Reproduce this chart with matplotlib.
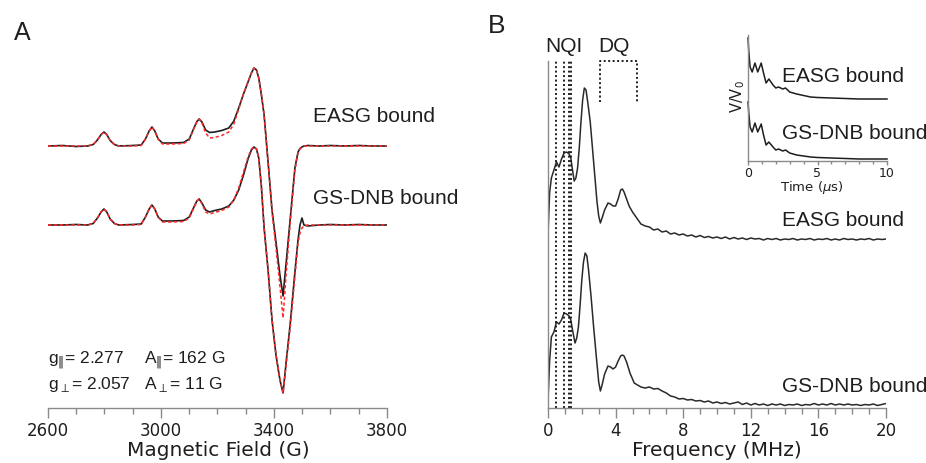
import matplotlib
matplotlib.use("Agg")
import matplotlib.pyplot as plt
from matplotlib.ticker import MultipleLocator

# ---------------- data: panel A (CW EPR) ----------------
field_G = [2600, 2650, 2700, 2740, 2760, 2775, 2788, 2798, 2808, 2820, 2835, 2850,
           2900, 2930, 2945, 2958, 2968, 2978, 2990, 3005, 3040, 3080, 3100, 3115,
           3127, 3135, 3145, 3158, 3172, 3190, 3215, 3240, 3258, 3275, 3292, 3308,
           3320, 3329, 3338, 3346, 3355, 3365, 3379, 3393, 3407, 3421, 3432, 3443,
           3457, 3474, 3485, 3492, 3499, 3506, 3520, 3560, 3600, 3650, 3700, 3750, 3800]
easg_exp = [0, 0.5, -0.5, 0, 1.5, 6, 11.5, 14, 11.5, 5.5, 1.5, 0,
            0.5, 1, 7, 15, 19, 15, 7, 3, 3, 3.5, 7, 17,
            24.5, 27, 24, 16, 13.5, 14, 15.5, 18, 25, 38, 52, 64,
            73, 78, 76, 68, 52, 31, -16, -64, -96, -129, -150, -117,
            -74, -22, -6, -2.5, -1, 0, 0.5, 0, 0.5, 0, 0.5, 0, 0]
easg_sim = [0, 0, 0, 0, 1.5, 6, 11.5, 14, 11.5, 5.5, 1.5, 0,
            0, 0.5, 7, 15, 19, 15, 7, 2, 2, 2.5, 6, 16.5,
            24.5, 27, 23, 13, 8, 8.5, 10.5, 14, 22, 37, 52, 64,
            73, 78, 76, 68, 52, 31, -16, -66, -102, -140, -172, -128,
            -78, -24, -7, -3, -1, 0, 0, 0, 0, 0, 0, 0, 0]
gsdnb_exp = [0, 0, 0.5, 0, 1.5, 7, 13, 16, 13, 6, 1.5, 0,
             0.5, 1, 8, 16, 20, 16, 8, 4, 4, 4.5, 8, 17,
             24, 26, 22, 15, 13, 14.5, 16, 19, 25, 35, 50, 66,
             75, 78, 76, 67, 40, -3, -45, -95, -130, -155, -168, -137,
             -100, -47, -15, 0, 7, 0, -1, 0, 0.5, 0, 0.5, 0, 0]
gsdnb_sim = [0, 0, 0, 0, 1.5, 7, 13, 16, 13, 6, 1.5, 0,
             0, 0.5, 8, 16, 20, 16, 8, 3, 3, 3.5, 7, 16.5,
             24, 26, 21, 13, 11, 12.5, 14.5, 18, 25, 37, 53, 68,
             76, 78, 76, 67, 40, -3, -45, -95, -130, -155, -168, -140,
             -103, -52, -18, -8, -3, -1, 0, 0, 0, 0, 0, 0, 0]
fieldA_ticks = [2600, 3000, 3400, 3800]

# ---------------- data: panel B (ESEEM FT) ----------------
freq_easg = [0.0, 0.05, 0.1, 0.2, 0.35, 0.5, 0.65, 0.8, 0.95, 1.1, 1.25, 1.35, 1.45,
             1.55, 1.65, 1.75, 1.85, 1.95, 2.05, 2.15, 2.25, 2.35, 2.5, 2.7, 2.9,
             3.0, 3.1, 3.2, 3.35, 3.55, 3.7, 3.85, 4.0, 4.15, 4.3, 4.4, 4.5, 4.65,
             4.8, 5.0, 5.25, 5.5,
             5.75, 6.0, 6.25, 6.5, 6.75, 7.0, 7.25, 7.5, 7.75, 8.0, 8.25, 8.5, 8.75,
             9.0, 9.25, 9.5, 9.75, 10.0, 10.25, 10.5, 10.75, 11.0, 11.25, 11.5,
             11.75, 12.0, 12.25, 12.5, 12.75, 13.0, 13.25, 13.5, 13.75, 14.0, 14.25,
             14.5, 14.75, 15.0, 15.25, 15.5, 15.75, 16.0, 16.25, 16.5, 16.75, 17.0,
             17.25, 17.5, 17.75, 18.0, 18.25, 18.5, 18.75, 19.0, 19.25, 19.5, 19.75, 20.0]
ft_easg = [5, 28, 48, 62, 70, 78, 73, 81, 87, 88, 86, 82, 70,
           59, 62, 72, 92, 118, 140, 152, 150, 138, 118, 78, 38,
           24, 17, 22, 30, 37, 36, 34, 34, 41, 50, 51, 48, 41,
           34, 28, 22, 16,
           14, 13, 10, 11, 8, 9, 6, 7, 5, 6, 4, 5, 3,
           4.5, 2.5, 3.5, 2, 3, 1.5, 3, 1, 2.5, 1, 2,
           0.5, 2, 1, 1.5, 0, 1.5, 0.5, 1.5, 0, 1, 0.5,
           1.5, 0, 1, 0.5, 1.5, 0, 1, 0.5, 1.5, 0, 1,
           0, 1.5, 0.5, 1, 0, 1, 0.5, 1.5, 0, 1, 0.5, 1]
freq_gsdnb = [0.0, 0.05, 0.1, 0.2, 0.35, 0.5, 0.65, 0.8, 0.95, 1.1, 1.25, 1.35, 1.45,
              1.6, 1.7, 1.8, 1.9, 2.0, 2.1, 2.2, 2.3, 2.4, 2.55, 2.7, 2.85,
              3.0, 3.1, 3.2, 3.35, 3.55, 3.7, 3.85, 4.0, 4.15, 4.3, 4.4, 4.5, 4.65,
              4.85, 5.1, 5.5,
              5.75, 6.0, 6.25, 6.5, 6.75, 7.0, 7.25, 7.5, 7.75, 8.0, 8.25, 8.5, 8.75,
              9.0, 9.25, 9.5, 9.75, 10.0, 10.25, 10.5, 10.75, 11.0, 11.25, 11.5,
              11.75, 12.0, 12.25, 12.5, 12.75, 13.0, 13.25, 13.5, 13.75, 14.0, 14.25,
              14.5, 14.75, 15.0, 15.25, 15.5, 15.75, 16.0, 16.25, 16.5, 16.75, 17.0,
              17.25, 17.5, 17.75, 18.0, 18.25, 18.5, 18.75, 19.0, 19.25, 19.5, 19.75, 20.0]
ft_gsdnb = [6, 26, 46, 69, 74, 84, 82, 86, 93, 92, 90, 86, 76,
            63, 68, 79, 101, 126, 144, 153, 150, 136, 109, 79, 51,
            24, 15, 21, 32, 40, 39, 37, 39, 45, 50, 51, 50, 44,
            33, 23, 19,
            18, 19, 17, 17.5, 15, 13, 10, 9, 7, 7.5, 6, 6.5, 5,
            5.5, 4, 5, 3, 4, 2.5, 3.5, 2, 3, 4, 1.5,
            3, 1, 2.5, 1, 2, 0.5, 2, 1, 2, 0.5, 1.5,
            1, 2, 0.5, 1.5, 1, 2.5, 1, 2, 1, 2.5, 1,
            2, 1, 2, 1, 1.5, 0.5, 1.5, 1, 2, 0.5, 1.5, 2.5]
nqi_lines = [0.47, 0.97, 1.26, 1.36]
dq_range = [3.08, 5.27]
freq_ticks = [0, 4, 8, 12, 16, 20]

# ---------------- data: inset (time traces) ----------------
time_us = [0.0, 0.05, 0.15, 0.3, 0.5, 0.7, 0.95, 1.1, 1.3, 1.5, 1.8, 2.0, 2.2,
           2.5, 2.7, 3.0, 3.5, 4.0, 4.5, 5.0, 6.0, 7.0, 8.0, 9.0, 10.0]
v_easg = [61, 49, 32, 27, 36, 27, 36, 27, 16, 20, 14, 11, 12,
          10, 11, 7, 5, 3.5, 2, 1.5, 1, 0.5, 0, 0, 0]
v_gsdnb = [57, 47, 32, 27, 36, 27, 35, 25, 14, 17, 12, 9, 10,
           8, 9, 6, 4, 3, 2, 1.5, 1, 0.5, 0, 0, 0]
time_ticks = [0, 5, 10]

# ---------------- figure ----------------
W, H = 926, 463
fig = plt.figure(figsize=(W / 100, H / 100), dpi=100)
SANS = ['Liberation Sans', 'DejaVu Sans']
TICKF = 'DejaVu Sans'
GRAY = '#8a8a8a'
INK = '#1e1e1e'


def rect(l, t, r, b):
    return [l / W, 1 - b / H, (r - l) / W, (b - t) / H]


def ftext(x, y, s, **kw):
    kw.setdefault('family', SANS)
    kw.setdefault('color', INK)
    fig.text(x / W, 1 - y / H, s, **kw)


def style_axis(ax, major_len=7, minor_len=4.2, fs=12, pad=3):
    for sp in ['top', 'right', 'left']:
        ax.spines[sp].set_visible(False)
    ax.spines['bottom'].set_color(GRAY)
    ax.spines['bottom'].set_linewidth(1.0)
    ax.set_yticks([])
    ax.tick_params(axis='x', which='major', direction='out', length=major_len,
                   width=1.0, color=GRAY, labelsize=fs, labelcolor=INK, pad=pad)
    ax.tick_params(axis='x', which='minor', direction='out', length=minor_len,
                   width=1.0, color=GRAY)
    for lab in ax.get_xticklabels():
        lab.set_family(TICKF)
    ax.patch.set_alpha(0)


# Panel A
axA = fig.add_axes(rect(48, 50, 387, 408))
offA_e, offA_g = 262, 183
axA.plot(field_G, [v + offA_e for v in easg_exp], color=INK, lw=1.2)
axA.plot(field_G, [v + offA_e for v in easg_sim], color='#ff2a2a', lw=1.1,
         ls=(0, (2.2, 1.6)))
axA.plot(field_G, [v + offA_g for v in gsdnb_exp], color=INK, lw=1.2)
axA.plot(field_G, [v + offA_g for v in gsdnb_sim], color='#ff2a2a', lw=1.1,
         ls=(0, (2.2, 1.6)))
axA.set_xlim(2600, 3800)
axA.set_ylim(0, 358)
axA.set_xticks(fieldA_ticks)
axA.xaxis.set_minor_locator(MultipleLocator(100))
style_axis(axA)

# Panel B
axB = fig.add_axes(rect(548, 61, 886, 408))
offB_e, offB_g = 168, 2
axB.plot(freq_easg, [v + offB_e for v in ft_easg], color='#2a2a2a', lw=1.1)
axB.plot(freq_gsdnb, [v + offB_g for v in ft_gsdnb], color='#2a2a2a', lw=1.1)
axB.set_xlim(0, 20)
axB.set_ylim(0, 347)
axB.set_xticks(freq_ticks)
axB.xaxis.set_minor_locator(MultipleLocator(1))
style_axis(axB)
axB.spines['left'].set_visible(True)
axB.spines['left'].set_color(GRAY)
axB.spines['left'].set_linewidth(1.0)
axB.vlines(nqi_lines, 0, 347, colors=INK, linestyles=(0, (1, 1.3)), lw=1.4,
           clip_on=False)
axB.plot([dq_range[0], dq_range[0], dq_range[1], dq_range[1]], [306, 347, 347, 306],
         color=INK, ls=(0, (1, 1.3)), lw=1.4, clip_on=False)

# Inset
axI = fig.add_axes(rect(748, 35, 887, 161))
offI_e, offI_g = 62, 2
axI.plot(time_us, [v + offI_e for v in v_easg], color=INK, lw=1.1, clip_on=False)
axI.plot(time_us, [v + offI_g for v in v_gsdnb], color=INK, lw=1.1, clip_on=False)
axI.set_xlim(0, 10)
axI.set_ylim(0, 126)
axI.set_xticks(time_ticks)
axI.xaxis.set_minor_locator(MultipleLocator(1))
style_axis(axI, major_len=3, minor_len=2, fs=9, pad=1.5)
axI.spines['left'].set_visible(True)
axI.spines['left'].set_color(GRAY)
axI.spines['left'].set_linewidth(1.0)

# Texts
ftext(22, 33, 'A', fontsize=18, ha='center', va='center')
ftext(497, 26, 'B', fontsize=19, ha='center', va='center')
ftext(313, 117, 'EASG bound', fontsize=15, va='center')
ftext(313, 199, 'GS-DNB bound', fontsize=15, va='center')
ftext(782, 220, 'EASG bound', fontsize=15, va='center')
ftext(782, 387, 'GS-DNB bound', fontsize=15, va='center')
ftext(782, 77, 'EASG bound', fontsize=15, va='center')
ftext(782, 134, 'GS-DNB bound', fontsize=15, va='center')
ftext(564, 47, 'NQI', fontsize=15, ha='center', va='center')
ftext(614, 47, 'DQ', fontsize=15, ha='center', va='center')
ftext(48, 360, r'g$_{\|}$= 2.277', fontsize=12.5, va='center')
ftext(144, 360, r'A$_{\|}$= 162 G', fontsize=12.5, va='center')
ftext(48, 385, r'g$_{\perp}$= 2.057', fontsize=12.5, va='center')
ftext(144, 385, r'A$_{\perp}$= 11 G', fontsize=12.5, va='center')
ftext(218, 450, 'Magnetic Field (G)', fontsize=14.5, ha='center', va='center',
      family=TICKF)
ftext(717, 450, 'Frequency (MHz)', fontsize=14.5, ha='center', va='center',
      family=TICKF)
ftext(812, 188, r'Time ($\mu$s)', fontsize=9.5, ha='center', va='center',
      family=TICKF)
ftext(738, 97, r'V/V$_0$', fontsize=10.5, ha='center', va='center', rotation=90,
      family=TICKF)

fig.savefig('out.png', dpi=100)
